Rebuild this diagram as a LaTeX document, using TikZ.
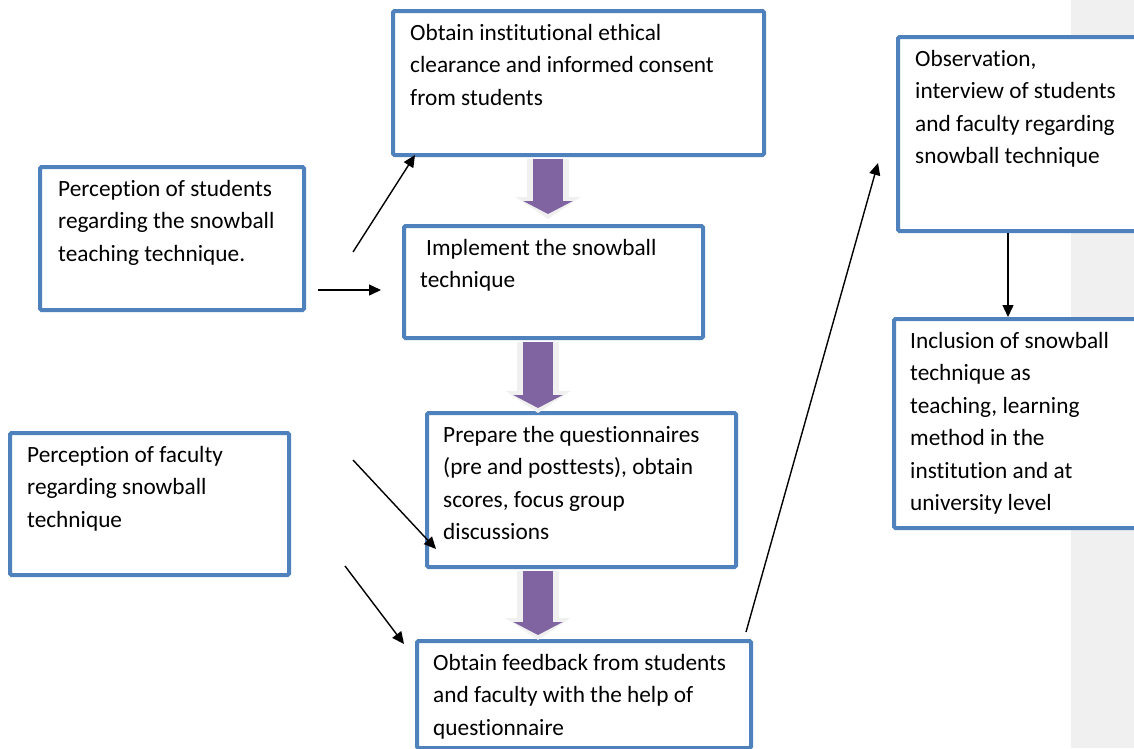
\documentclass[tikz,border=0pt]{standalone}
\usepackage{fontspec}
\setmainfont{Carlito}[Ligatures={NoCommon,NoContextual}]
\usetikzlibrary{arrows.meta,calc}
\newcommand\zk{\kern0pt}
\definecolor{boxblue}{HTML}{4F81BD}
\definecolor{arrowpurple}{HTML}{8064A2}
\definecolor{halo}{HTML}{F0F0F0}
\definecolor{strip}{HTML}{F0F0F0}
\tikzset{
  box/.style={draw=boxblue, line width=4pt, fill=white, rounded corners=1.5pt, inner sep=0pt, anchor=north west},
  txt/.style={inner sep=0pt, anchor=base west, font=\fontsize{23.3}{32.5}\selectfont},
  link/.style={line width=1.4pt, -{Triangle[length=12pt,width=11pt]}},
  flowhalo/.style={line width=42pt, halo, shorten <=2pt, shorten >=-5pt, -{Triangle[length=22pt,width=64pt]}},
  flow/.style={line width=30pt, arrowpurple, shorten <=2pt, -{Triangle[length=13pt,width=49pt]}},
}
\begin{document}
\begin{tikzpicture}[x=1pt,y=-1pt]
\useasboundingbox (0,0) rectangle (1134,748);
\clip (0,0) rectangle (1134,748);
\fill[strip] (1071,0) rectangle (1134,748);

% boxes
\node[box, minimum width=371pt, minimum height=144pt] (A) at (391,9) {};
\node[box, minimum width=264pt, minimum height=143pt] (P1) at (38,165) {};
\node[box, minimum width=299pt, minimum height=112pt] (B) at (402,224) {};
\node[box, minimum width=309pt, minimum height=154pt] (C) at (425,411) {};
\node[box, minimum width=334pt, minimum height=107pt] (D) at (415,639) {};
\node[box, minimum width=279pt, minimum height=142pt] (P2) at (8,431) {};
\node[box, minimum width=260pt, minimum height=194pt] (R1) at (896,35) {};
\node[box, minimum width=264pt, minimum height=209pt] (R2) at (892,317) {};

% texts
\node[txt] (At) at ($(A.north west)+(19,31)$) {\parbox[t]{340pt}{Obtain inst\zk itut\zk ional ethical\\clearance and informed consent\\from students}};
\node[txt] (P1t) at ($(P1.north west)+(20,31)$) {\parbox[t]{240pt}{Percept\zk ion of students\\regarding the snowball\\teaching technique.}};
\node[txt] (Bt) at ($(B.north west)+(18,31)$) {\parbox[t]{280pt}{\hspace*{6pt}Implement the snowball\\technique}};
\node[txt] (Ct) at ($(C.north west)+(18,31)$) {\parbox[t]{290pt}{Prepare the questionnaires\\(pre and post\zk tests), obtain\\scores, focus group\\discussions}};
\node[txt] (Dt) at ($(D.north west)+(18,31)$) {\parbox[t]{310pt}{Obtain feedback from students\\and faculty with the help of\\questionnaire}};
\node[txt] (P2t) at ($(P2.north west)+(19,31)$) {\parbox[t]{250pt}{Percept\zk ion of faculty\\regarding snowball\\technique}};
\node[txt] (R1t) at ($(R1.north west)+(19,31)$) {\parbox[t]{230pt}{Observat\zk ion,\\interview of students\\and faculty regarding\\snowball technique}};
\node[txt] (R2t) at ($(R2.north west)+(18,31)$) {\parbox[t]{230pt}{Inclusion of snowball\\technique as\\teaching, learning\\method in the\\inst\zk itut\zk ion and at\\university level}};

% block arrows
\draw[flowhalo] ($(A.south west)+(157,0)$) -- ($(B.north west)+(146,-10)$);
\draw[flow] ($(A.south west)+(157,0)$) -- ($(B.north west)+(146,-10)$);
\draw[flowhalo] ($(B.south west)+(136,0)$) -- ($(C.north west)+(113,-3)$);
\draw[flow] ($(B.south west)+(136,0)$) -- ($(C.north west)+(113,-3)$);
\draw[flowhalo] ($(C.south west)+(113,0)$) -- ($(D.north west)+(123,-4)$);
\draw[flow] ($(C.south west)+(113,0)$) -- ($(D.north west)+(123,-4)$);

% black arrows
\coordinate (s1) at (353,252);
\coordinate (e1) at (415,155);
\coordinate (s2) at (318,290);
\coordinate (e2) at (381,290);
\coordinate (s3) at (353,460);
\coordinate (e3) at (436,549);
\coordinate (s4) at (345,566);
\coordinate (e4) at (404,644);
\coordinate (s5) at (746,632);
\coordinate (e5) at (878,163);
\draw[link] (s1) -- (e1);
\draw[link] (s2) -- (e2);
\draw[link] (s3) -- (e3);
\draw[link] (s4) -- (e4);
\draw[link] (s5) -- (e5);
\draw[link] ($(R1.south west)+(112,0)$) -- ($(R2.north west)+(116,0)$);
\end{tikzpicture}
\end{document}
